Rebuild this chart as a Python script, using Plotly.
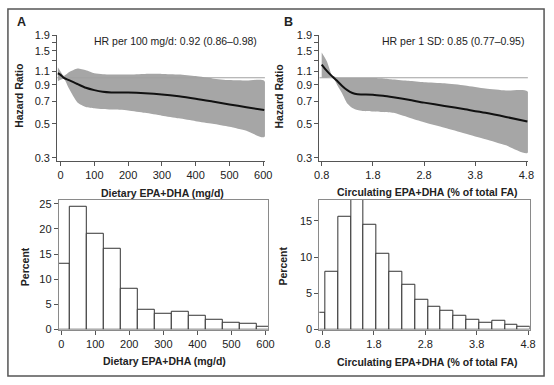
import plotly.graph_objects as go
import math

W, H = 554, 385

# ---- Panel A (dietary) spline HR ----
dietA_x = [-8, 0, 10, 25, 50, 75, 100, 125, 150, 200, 250, 300, 350, 400, 450, 500, 550, 603]
dietA_hr = [1.07, 1.045, 0.997, 0.965, 0.91, 0.86, 0.83, 0.81, 0.802, 0.80, 0.792, 0.778, 0.757, 0.73, 0.70, 0.67, 0.642, 0.615]
dietA_hi = [1.17, 1.10, 1.03, 1.087, 1.15, 1.12, 1.07, 1.055, 1.05, 1.05, 1.06, 1.06, 1.05, 1.025, 0.99, 0.965, 0.958, 0.955]
dietA_lo = [0.95, 0.97, 0.985, 0.85, 0.69, 0.645, 0.633, 0.625, 0.62, 0.612, 0.59, 0.565, 0.543, 0.52, 0.50, 0.478, 0.45, 0.41]

# ---- Panel B (circulating) spline HR ----
circB_x = [0.8, 0.9, 1.0, 1.05, 1.1, 1.2, 1.3, 1.4, 1.5, 1.6, 1.8, 2.0, 2.2, 2.5, 2.8, 3.2, 3.6, 4.0, 4.4, 4.82]
circB_hr = [1.22, 1.11, 1.025, 0.99, 0.955, 0.885, 0.83, 0.795, 0.78, 0.778, 0.775, 0.762, 0.745, 0.718, 0.688, 0.655, 0.622, 0.59, 0.555, 0.518]
circB_hi = [1.46, 1.28, 1.04, 1.02, 1.0, 0.995, 0.995, 0.995, 0.995, 0.995, 0.995, 0.99, 0.975, 0.955, 0.935, 0.92, 0.89, 0.85, 0.825, 0.815]
circB_lo = [1.0, 1.0, 1.01, 0.97, 0.9, 0.79, 0.68, 0.635, 0.615, 0.607, 0.603, 0.598, 0.59, 0.55, 0.512, 0.472, 0.433, 0.397, 0.362, 0.323]

# ---- Histograms ----
histA_centers = [0, 50, 100, 150, 200, 250, 300, 350, 400, 450, 500, 550, 600]
histA_pct = [13.0, 24.4, 19.0, 16.1, 8.1, 4.0, 3.15, 3.5, 2.7, 1.86, 1.41, 1.09, 0.64]
histB_centers = [0.725, 0.975, 1.225, 1.475, 1.725, 1.975, 2.225, 2.475, 2.725, 2.975,
                 3.225, 3.475, 3.725, 3.975, 4.225, 4.475, 4.725]
histB_pct = [2.3, 7.97, 15.6, 17.85, 14.5, 10.4, 7.97, 6.2, 4.1, 3.16, 2.63, 1.87, 1.34, 0.98, 1.16, 0.62, 0.36]

hr_ticks = [0.3, 0.5, 0.7, 0.9, 1.1, 1.3, 1.5, 1.7, 1.9]
hr_ticktext = ["0.3", "0.5", "0.7", "0.9", "1.1", "", "1.5", "", "1.9"]
dietA_ticks = [0, 100, 200, 300, 400, 500, 600]
circB_ticks = [0.8, 1.8, 2.8, 3.8, 4.8]
circB_ticktext = ["0.8", "1.8", "2.8", "3.8", "4.8"]

FONT = "Liberation Sans, Arial, sans-serif"
TXT = "#222222"
BAND = "#a6a6a6"
AX = "#555555"


def px(x):
    return x / W


def py(y):
    return 1 - y / H


fig = go.Figure()


def add_band(x, lo, hi, xa, ya):
    fig.add_trace(go.Scatter(
        x=list(x) + list(x)[::-1], y=list(hi) + list(lo)[::-1],
        fill="toself", fillcolor=BAND, line=dict(width=0, shape="spline", smoothing=0.6),
        mode="lines", xaxis=xa, yaxis=ya, hoverinfo="skip", showlegend=False))


add_band(dietA_x, dietA_lo, dietA_hi, "x", "y")
add_band(circB_x, circB_lo, circB_hi, "x2", "y2")

# reference lines at HR = 1
fig.add_trace(go.Scatter(x=[-10, 605], y=[1, 1], mode="lines",
                         line=dict(color="#a0a0a0", width=1.2), xaxis="x", yaxis="y",
                         showlegend=False, hoverinfo="skip"))
fig.add_trace(go.Scatter(x=[0.754, 4.83], y=[1, 1], mode="lines",
                         line=dict(color="#a0a0a0", width=1.2), xaxis="x2", yaxis="y2",
                         showlegend=False, hoverinfo="skip"))

fig.add_trace(go.Scatter(x=dietA_x, y=dietA_hr, mode="lines",
                         line=dict(color="#111111", width=2, shape="spline", smoothing=0.8),
                         xaxis="x", yaxis="y", showlegend=False))
fig.add_trace(go.Scatter(x=circB_x, y=circB_hr, mode="lines",
                         line=dict(color="#111111", width=2, shape="spline", smoothing=0.8),
                         xaxis="x2", yaxis="y2", showlegend=False))

fig.add_trace(go.Bar(x=histA_centers, y=histA_pct, width=50,
                     marker=dict(color="white", line=dict(color="#333333", width=1)),
                     xaxis="x3", yaxis="y3", showlegend=False))
fig.add_trace(go.Bar(x=histB_centers, y=histB_pct, width=0.25,
                     marker=dict(color="white", line=dict(color="#333333", width=1)),
                     xaxis="x4", yaxis="y4", showlegend=False))

tickfont = dict(family=FONT, size=11, color=TXT)
common_ax = dict(showgrid=False, zeroline=False, showline=True, linecolor=AX, linewidth=1,
                 ticks="outside", ticklen=4, tickcolor=AX, tickfont=tickfont)

ylog_range = [math.log10(0.286), math.log10(1.9)]

fig.update_layout(
    width=W, height=H, margin=dict(l=0, r=0, t=0, b=0),
    paper_bgcolor="white", plot_bgcolor="white",
    bargap=0,
    xaxis=dict(domain=[px(53.3), px(265.7)], range=[-10, 605], anchor="y",
               tickvals=dietA_ticks, **common_ax),
    yaxis=dict(domain=[py(160), py(30)], type="log", range=ylog_range, anchor="x",
               tickvals=hr_ticks, ticktext=hr_ticktext, **common_ax),
    xaxis2=dict(domain=[px(321.3), px(534.5)], range=[0.754, 4.83], anchor="y2",
                tickvals=circB_ticks, ticktext=circB_ticktext, **common_ax),
    yaxis2=dict(domain=[py(160), py(30)], type="log", range=ylog_range, anchor="x2",
                tickvals=hr_ticks, ticktext=hr_ticktext, **common_ax),
    xaxis3=dict(domain=[px(55), px(269)], range=[-7, 608], anchor="y3",
                tickvals=dietA_ticks, mirror=True, **{**common_ax, "linecolor": "#8a8a8a"}),
    yaxis3=dict(domain=[py(334), py(200)], range=[0, 25.8], anchor="x3",
                tickvals=[0, 5, 10, 15, 20, 25], mirror=True, **{**common_ax, "linecolor": "#8a8a8a"}),
    xaxis4=dict(domain=[px(321.3), px(536.3)], range=[0.7365, 4.832], anchor="y4",
                tickvals=circB_ticks, ticktext=circB_ticktext, mirror=True,
                **{**common_ax, "linecolor": "#8a8a8a"}),
    yaxis4=dict(domain=[py(334), py(200)], range=[0, 17.9], anchor="x4",
                tickvals=[0, 5, 10, 15], mirror=True, **{**common_ax, "linecolor": "#8a8a8a"}),
)

anns = []


def ann(text, x, y, size=10.5, bold=False, angle=0, xanchor="center"):
    t = f"<b>{text}</b>" if bold else text
    anns.append(dict(text=t, x=px(x), y=py(y), xref="paper", yref="paper",
                     showarrow=False, textangle=angle, xanchor=xanchor, yanchor="middle",
                     font=dict(family=FONT, size=size, color=TXT)))


ann("A", 16.7, 17, size=12.5, bold=True)
ann("B", 290, 16, size=12.5, bold=True)
ann("HR per 100 mg/d: 0.92 (0.86–0.98)", 260, 36, xanchor="right")
ann("HR per 1 SD: 0.85 (0.77–0.95)", 533, 36, xanchor="right")
ann("Hazard Ratio", 14, 93, bold=True, angle=-90)
ann("Hazard Ratio", 280.5, 93, bold=True, angle=-90)
ann("Dietary EPA+DHA (mg/d)", 161, 192.7, bold=True)
ann("Circulating EPA+DHA (% of total FA)", 432, 191.5, bold=True)
ann("Percent", 20, 269, bold=True, angle=-90)
ann("Percent", 284, 268, bold=True, angle=-90)
ann("Dietary EPA+DHA (mg/d)", 163, 366.7, bold=True)
ann("Circulating EPA+DHA (% of total FA)", 432, 367, bold=True)
fig.update_layout(annotations=anns)

fig.add_shape(type="rect", xref="paper", yref="paper",
              x0=px(3), x1=px(551), y0=py(382), y1=py(3),
              line=dict(color="#555555", width=1.5), fillcolor="rgba(0,0,0,0)")

fig.write_html("out.html", config={"displayModeBar": False},
               post_script="document.body.style.margin='0';document.body.style.overflow='hidden';")
